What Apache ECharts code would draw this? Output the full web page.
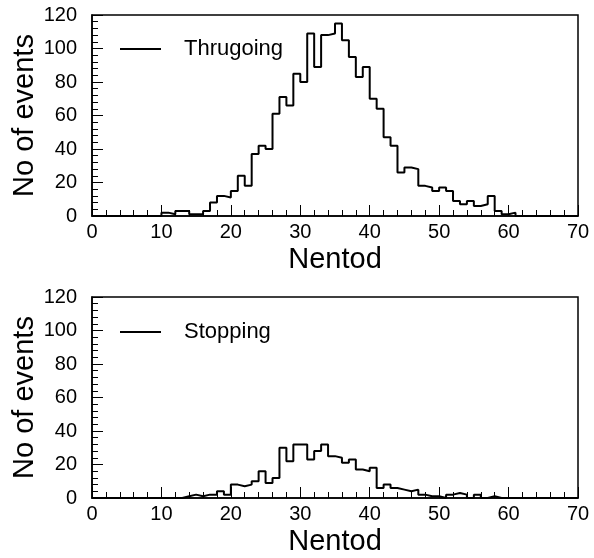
<!DOCTYPE html>
<html><head><meta charset="utf-8">
<script src="https://cdn.jsdelivr.net/npm/echarts@6/dist/echarts.min.js"></script>
<style>html,body{margin:0;padding:0;background:#fff}#c{width:594px;height:558px}</style>
</head><body><div id="c"></div>
<script>
// Histogram data: counts per unit-width bin of Nentod
const xMin = 0, xMax = 70, xStep = 10;
const yMin = 0, yMax = 120, yStep = 20;
const thruName = 'Thrugoing';
const thruFirstBin = 10;
const thruCounts = [2, 1, 3, 3, 1, 1, 3, 8, 12, 11,
                    15, 24, 18, 37, 42, 40, 61, 71, 66, 85,
                    80, 109, 89, 108, 109, 115, 105, 95, 83, 89,
                    70, 64, 47, 42, 26, 29, 28, 18, 17, 15,
                    17, 15, 9, 7, 9, 6, 7, 12, 3, 1, 2];
const stopName = 'Stopping';
const stopFirstBin = 13;
const stopCounts = [1, 2, 1, 2, 2, 4, 2, 8, 7, 8,
                    10, 16, 9, 12, 30, 22, 32, 32, 23, 28,
                    32, 25, 24, 21, 23, 17, 16, 18, 6, 8,
                    6, 5, 4, 5, 2, 1, 1, 0, 2, 3,
                    2, 0, 2, 0, 1];
const xTitle = 'Nentod';
const yTitle = 'No of events';

function stepData(first, counts) {
  const d = [];
  for (let u = xMin; u < xMax; u++) {
    const i = u - first;
    d.push([u, (i >= 0 && i < counts.length) ? counts[i] : 0]);
  }
  d.push([xMax, 0]);
  return d;
}

const font = 'Liberation Sans, Arial, Helvetica, sans-serif';
const grids = [
  {left: 92, width: 486, top: 15, height: 201},
  {left: 92, width: 486, top: 297, height: 201}
];
function xAxis(gi) {
  return {
    gridIndex: gi, type: 'value', min: xMin, max: xMax, interval: xStep,
    name: xTitle, nameLocation: 'middle', nameGap: 29, nameMoveOverlap: false,
    nameTextStyle: {fontFamily: font, fontSize: 29, color: '#000'},
    axisLine: {show: true, lineStyle: {color: '#000', width: 1.5}},
    axisTick: {show: true, inside: true, length: 11, lineStyle: {color: '#000', width: 1}},
    minorTick: {show: true, splitNumber: 5, length: 6, lineStyle: {color: '#000', width: 1}},
    axisLabel: {fontFamily: font, fontSize: 20, color: '#000', margin: 6},
    splitLine: {show: false}
  };
}
function yAxis(gi) {
  return {
    gridIndex: gi, type: 'value', min: yMin, max: yMax, interval: yStep,
    name: yTitle, nameLocation: 'middle', nameGap: 53, nameRotate: 90, nameMoveOverlap: false,
    nameTextStyle: {fontFamily: font, fontSize: 29, color: '#000'},
    axisLine: {show: true, lineStyle: {color: '#000', width: 1.5}},
    axisTick: {show: true, inside: true, length: 11, lineStyle: {color: '#000', width: 1}},
    minorTick: {show: true, splitNumber: 5, length: 6, lineStyle: {color: '#000', width: 1}},
    axisLabel: {fontFamily: font, fontSize: 20, color: '#000', margin: 15},
    splitLine: {show: false}
  };
}
function series(name, gi, first, counts) {
  return {
    name: name, type: 'line', step: 'end', xAxisIndex: gi, yAxisIndex: gi,
    data: stepData(first, counts), symbol: 'none', showSymbol: false,
    lineStyle: {color: '#000', width: 2}, itemStyle: {color: '#000'},
    animation: false, silent: true
  };
}
function legend(name, top) {
  return {
    data: [name], left: 120, top: top, padding: 0, itemWidth: 41, itemHeight: 2, itemGap: 0,
    icon: 'rect', itemStyle: {color: '#000', borderWidth: 0},
    textStyle: {fontFamily: font, fontSize: 22, color: '#000', padding: [0, 0, 0, 18]},
    selectedMode: false
  };
}
const chart = echarts.init(document.getElementById('c'), null, {renderer: 'canvas'});
chart.setOption({
  backgroundColor: '#fff',
  animation: false,
  grid: grids.map(g => Object.assign({show: true, borderColor: '#000', borderWidth: 1.5,
    backgroundColor: 'transparent', containLabel: false, outerBoundsMode: 'none'}, g)),
  xAxis: [xAxis(0), xAxis(1)],
  yAxis: [yAxis(0), yAxis(1)],
  legend: [legend(thruName, 38), legend(stopName, 321)],
  series: [series(thruName, 0, thruFirstBin, thruCounts), series(stopName, 1, stopFirstBin, stopCounts)]
});
</script></body></html>
